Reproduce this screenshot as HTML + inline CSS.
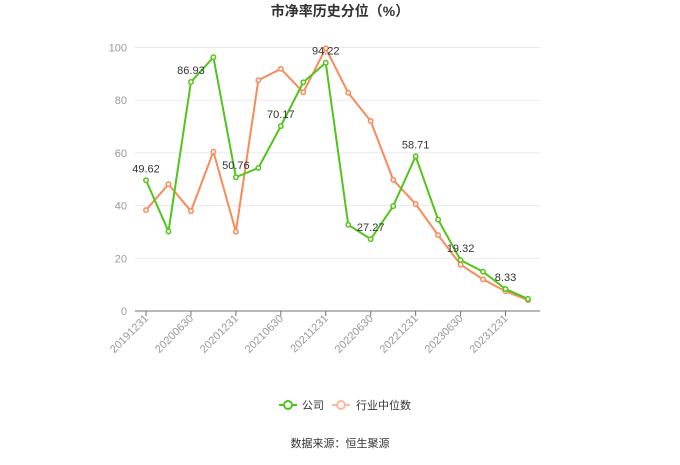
<!DOCTYPE html>
<html><head><meta charset="utf-8"><style>
body{margin:0;background:#fff;width:680px;height:460px;overflow:hidden;font-family:"Liberation Sans","Noto Sans CJK SC",sans-serif}
</style></head><body>
<svg id="s" width="680" height="460" xmlns="http://www.w3.org/2000/svg" font-family="Liberation Sans, Noto Sans CJK SC, sans-serif">
<text x="340" y="16" text-anchor="middle" font-size="14" font-weight="bold" fill="#333">市净率历史分位（%）</text>
<g id="g"></g>
<line x1="279" y1="405" x2="297" y2="405" stroke="#52c41a" stroke-width="2"/>
<circle cx="288" cy="405" r="4" fill="#fff" stroke="#52c41a" stroke-width="2"/>
<text x="302" y="409" font-size="11" fill="#333">公司</text>
<line x1="332" y1="405" x2="350" y2="405" stroke="#f9b89c" stroke-width="2"/>
<circle cx="341" cy="405" r="4" fill="#fff" stroke="#f9b89c" stroke-width="2"/>
<text x="356" y="409" font-size="11" fill="#333">行业中位数</text>
<text x="340" y="447" text-anchor="middle" font-size="11" fill="#333">数据来源：恒生聚源</text>
</svg>
<script>
var g=document.getElementById('g'),h='';
function Y(v){return 311-v*2.635}
function X(i){return 146+i*22.47}
for(var v=0;v<=100;v+=20){var y=Y(v);
 if(v>0)h+='<line x1="135" x2="540" y1="'+y+'" y2="'+y+'" stroke="#e6e9f5" stroke-width="1"/>';
 h+='<text x="127" y="'+(y+4)+'" text-anchor="end" font-size="11" fill="#999">'+v+'</text>';}
h+='<line x1="135" x2="540" y1="311" y2="311" stroke="#6e7079" stroke-width="1"/>';
var labs=['20191231','20200630','20201231','20210630','20211231','20220630','20221231','20230630','20231231'];
for(var i=0;i<9;i++){var x=X(i*2);
 h+='<line x1="'+x+'" x2="'+x+'" y1="311" y2="316" stroke="#6e7079"/>';
 h+='<text transform="translate('+(x+3)+',319) rotate(-45)" text-anchor="end" font-size="11" fill="#999">'+labs[i]+'</text>';}
var gr=[49.62,30.2,86.93,96.3,50.76,54.3,70.17,86.8,94.22,32.7,27.27,39.8,58.71,34.7,19.32,14.9,8.33,4.6];
var or=[38.3,48.1,37.9,60.5,30.1,87.6,91.9,83,99.7,82.8,72.1,49.8,40.6,28.8,17.6,12.0,7.5,4.1];
function line(d,c){var p=d.map(function(v,i){return X(i)+','+Y(v)}).join(' ');
 h+='<polyline points="'+p+'" fill="none" stroke="'+c+'" stroke-width="2"/>';
 d.forEach(function(v,i){h+='<circle cx="'+X(i)+'" cy="'+Y(v)+'" r="2.2" fill="#fff" stroke="'+c+'" stroke-width="1.5"/>'});}
line(or,'#f98b5a');line(gr,'#52c41a');
[0,2,4,6,8,10,12,14,16].forEach(function(i){h+='<text x="'+X(i)+'" y="'+(Y(gr[i])-8)+'" text-anchor="middle" font-size="11" fill="#333">'+gr[i].toFixed(2)+'</text>'});
g.innerHTML=h;
</script>
</body></html>
